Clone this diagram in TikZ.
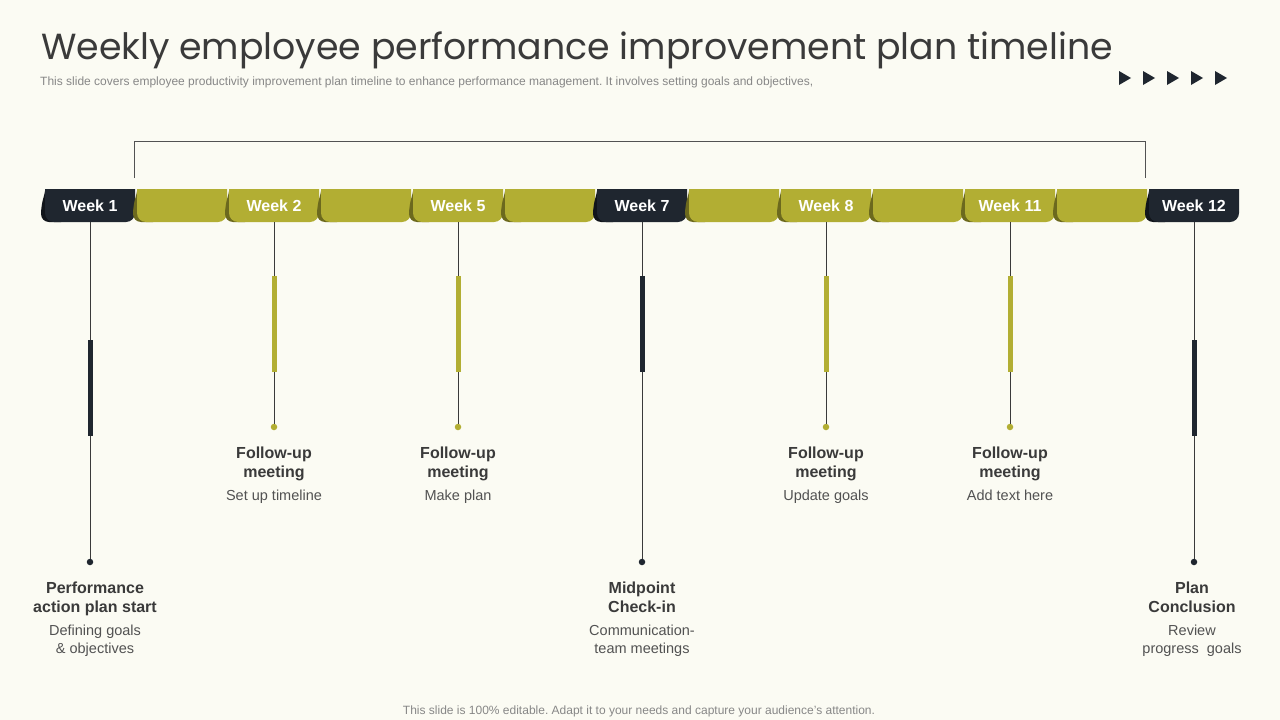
\documentclass[tikz,border=0pt]{standalone}
\usepackage{fontspec}
\setmainfont{Liberation Sans}
\newfontfamily\fontetitulo{Poppins}
\usetikzlibrary{positioning, calc}
\definecolor{meufundo}{RGB}{251,251,243}
\definecolor{meuoliva}{RGB}{178,174,51}
\definecolor{meuolivaescuro}{RGB}{108,105,30}
\definecolor{meumarinho}{RGB}{31,38,47}
\definecolor{meumarinhoescuro}{RGB}{17,21,27}
\definecolor{meutexto}{RGB}{58,58,58}
\definecolor{meucinza}{RGB}{82,82,82}
\definecolor{meucinzaclaro}{RGB}{135,135,135}
\frenchspacing

\begin{document}
\begin{tikzpicture}[
                x=1pt, y=-1pt,
                semana/.style={font=\bfseries\fontsize{16}{18}\selectfont, text=white, inner sep=0pt},
                cabeca/.style={font=\bfseries\fontsize{16}{19}\selectfont, text=meutexto, align=center, inner sep=0pt, text depth=4pt},
                descricao/.style={font=\fontsize{14.5}{18}\selectfont, text=meucinza, align=center, inner sep=0pt},
                haste/.style={draw=meutexto, line width=0.9pt},
                barra/.style={line width=5pt},
                ponto/.style={circle, inner sep=0pt, minimum size=6.5pt},
                chave/.style={draw=meucinza, line width=0.8pt}
            ]
                \fill[meufundo] (0,0) rectangle (1280,720);
                \useasboundingbox (0,0) rectangle (1280,720);

                % titulo e subtitulo
                \node[anchor=west, inner sep=0pt, text=meutexto, font=\fontetitulo\fontsize{36.3}{40}\selectfont] (titulo) at (41,50) {Weekly employee performance improvement plan timeline};
                \node[anchor=west, inner sep=0pt, text=meucinzaclaro, font=\fontsize{12}{14}\selectfont] (subtitulo) at (40,82) {This slide covers employee productivity improvement plan timeline to enhance performance management. It involves setting goals and objectives,};
                \foreach \k in {0,...,4}
                    \fill[meumarinho] (1119+24*\k,71) -- (1131+24*\k,78) -- (1119+24*\k,85) -- cycle;

                % barra das semanas
                \begin{scope}
                    \clip (0,189) rectangle (1280,240);
                    \foreach \i/\cor/\sombra/\rotulo in {0/meumarinho/meumarinhoescuro/Week 1, 1/meuoliva/meuolivaescuro/, 2/meuoliva/meuolivaescuro/Week 2, 3/meuoliva/meuolivaescuro/, 4/meuoliva/meuolivaescuro/Week 5, 5/meuoliva/meuolivaescuro/, 6/meumarinho/meumarinhoescuro/Week 7, 7/meuoliva/meuolivaescuro/, 8/meuoliva/meuolivaescuro/Week 8, 9/meuoliva/meuolivaescuro/, 10/meuoliva/meuolivaescuro/Week 11, 11/meuoliva/meuolivaescuro/, 12/meumarinho/meumarinhoescuro/Week 12}{
                        \pgfmathsetmacro{\xl}{45+92*\i}
                        \fill[\sombra, rounded corners=8pt] (\xl+1,180) -- (\xl+1,189) -- (\xl-4,206) -- (\xl-4,222) -- (\xl+24,222) -- (\xl+24,180) -- cycle;
                        \fill[\cor, rounded corners=9pt] (\xl,178) rectangle (\xl+90,222);
                        \node[semana] (tab\i) at (\xl+45,206) {\rotulo};
                    }
                \end{scope}

                \draw[chave] (134,178) -- (134,141) -- (1145,141) -- (1145,178);

                % marcos
                \foreach \i/\cor/\yp/\yb/\dx/\cab/\desc in {
                    0/meumarinho/562/340/5/{Performance\\action plan start}/{Defining goals\\\& objectives},
                    2/meuoliva/427/276/0/{Follow-up\\meeting}/{Set up timeline},
                    4/meuoliva/427/276/0/{Follow-up\\meeting}/{Make plan},
                    6/meumarinho/562/276/0/{Midpoint\\Check-in}/{Communication-\\team meetings},
                    8/meuoliva/427/276/0/{Follow-up\\meeting}/{Update goals},
                    10/meuoliva/427/276/0/{Follow-up\\meeting}/{Add text here},
                    12/meumarinho/562/340/-2/{Plan\\Conclusion}/{Review\\progress\ \ goals}}{
                    \node[ponto, fill=\cor] (ponto\i) at (tab\i |- 0,\yp) {};
                    \draw[haste] (tab\i |- 0,222) -- (ponto\i);
                    \draw[barra, \cor] (tab\i |- 0,\yb) -- (tab\i |- 0,\yb+96);
                    \node[cabeca, below=16pt of ponto\i, xshift=\dx pt] (cab\i) {\cab};
                    \node[descricao, below=8pt of cab\i] (desc\i) {\desc};
                }

                \node[inner sep=0pt, text=meucinzaclaro, font=\fontsize{12}{14}\selectfont] (rodape) at (639,711) {This slide is 100\% editable. Adapt it to your needs and capture your audience's attention.};
            \end{tikzpicture}
\end{document}
